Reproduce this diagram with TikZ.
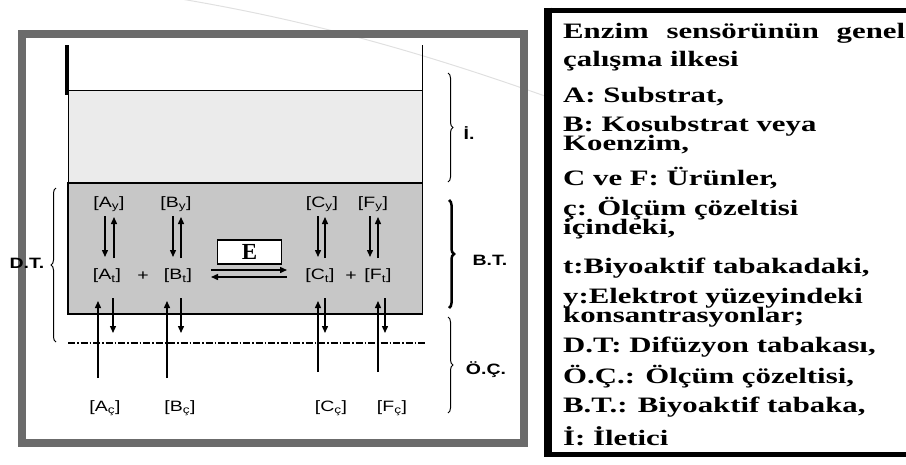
\documentclass[tikz,border=0pt]{standalone}
\usepackage{fontspec}
\setmainfont{Liberation Serif}
\newfontfamily\legfont[FakeStretch=1.4]{Liberation Serif}
\newfontfamily\labfont[FakeStretch=1.3]{Liberation Sans}
\usetikzlibrary{arrows.meta,decorations.pathreplacing}
\begin{document}
\begin{tikzpicture}[x=1pt,y=-1pt,
  lab/.style={font=\labfont\fontsize{15}{15}\selectfont, inner sep=0pt},
  blab/.style={font=\labfont\bfseries\fontsize{15}{15}\selectfont, inner sep=0pt},
  leg/.style={font=\legfont\bfseries\fontsize{22}{22}\selectfont, anchor=base west, inner sep=0pt},
  arr/.style={line width=1.4pt, -{Triangle[length=7pt,width=6pt]}},
  brc/.style={decorate, decoration={brace, amplitude=5pt}, line width=1pt},
  frame/.style={draw=black!58, line width=8pt},
  ]
\useasboundingbox (0,0) rectangle (906,464);
\clip (0,0) rectangle (906,464);
% faint background arc
\draw[black!12, line width=1pt] (175,-2) .. controls (320,22) and (440,58) .. (570,105);
% grey frame
\draw[frame] (22,33.5) rectangle (523.5,442.5);
% light grey layer (İ.)
\draw[fill=black!8, line width=1pt] (68,90) rectangle (422.5,183);
% bioactive layer (B.T.)
\draw[fill=black!22, line width=1.3pt] (68,183) rectangle (422.5,314);
\draw[line width=2.5pt] (68,183) -- (422.5,183);
% walls
\draw[line width=4pt] (67,45) -- (67,95);
\draw[line width=1pt] (422.5,45) -- (422.5,90);
% dotted solution boundary
\draw[line width=2pt, dash pattern=on 7pt off 2pt on 1.5pt off 2pt] (68,343) -- (425,343);

% labels in layer
\node[lab] (Ay) at (109,204) {[A\textsubscript{y}]};
\node[lab] (By) at (176,204) {[B\textsubscript{y}]};
\node[lab] (Cy) at (322,204) {[C\textsubscript{y}]};
\node[lab] (Fy) at (373,204) {[F\textsubscript{y}]};
\node[lab] (At) at (107,276) {[A\textsubscript{t}]};
\node[lab] (pAB) at (143,276) {+};
\node[lab] (Bt) at (178,276) {[B\textsubscript{t}]};
\node[lab] (Ct) at (320,276) {[C\textsubscript{t}]};
\node[lab] (pCF) at (351,276) {+};
\node[lab] (Ft) at (378,276) {[F\textsubscript{t}]};
\node[lab] (Ac) at (105,408) {[A\textsubscript{ç}]};
\node[lab] (Bc) at (180,408) {[B\textsubscript{ç}]};
\node[lab] (Cc) at (331,408) {[C\textsubscript{ç}]};
\node[lab] (Fc) at (392,408) {[F\textsubscript{ç}]};

% vertical arrows y <-> t
\foreach \n/\xd/\xu in {A/105/114, B/173/181, C/318/325, F/370/378} {
  \coordinate (\n yd1) at (\xd,216); \coordinate (\n yd2) at (\xd,257);
  \coordinate (\n yu1) at (\xu,258); \coordinate (\n yu2) at (\xu,217);
  \draw[arr] (\n yd1) -- (\n yd2);
  \draw[arr] (\n yu1) -- (\n yu2);
}
% vertical arrows t <-> ç
\foreach \n/\xu/\xd/\yb in {A/98/113/378, B/167/181/378, C/318/325/372, F/378/385/372} {
  \coordinate (\n cu1) at (\xu,\yb); \coordinate (\n cu2) at (\xu,301);
  \coordinate (\n cd1) at (\xd,298); \coordinate (\n cd2) at (\xd,333);
  \draw[arr] (\n cu1) -- (\n cu2);
  \draw[arr] (\n cd1) -- (\n cd2);
}
% enzyme and reaction arrows
\node[draw, fill=white, line width=1.5pt, minimum width=64pt, minimum height=24pt, inner sep=0pt,
      font=\bfseries\fontsize{23}{23}\selectfont] (E) at (249.5,252) {E};
\coordinate (rf1) at (211,270); \coordinate (rf2) at (287,270);
\coordinate (rb1) at (287,277); \coordinate (rb2) at (211,277);
\draw[arr] (rf1) -- (rf2);
\draw[arr] (rb1) -- (rb2);

% braces
\coordinate (iT) at (448,73);  \coordinate (iB) at (448,182);
\coordinate (bT) at (449,200); \coordinate (bB) at (449,308);
\coordinate (oT) at (448,317); \coordinate (oB) at (448,413);
\coordinate (dT) at (56,188);  \coordinate (dB) at (56,342);
\draw[brc] (iT) -- (iB);
\draw[brc, line width=2.5pt] (bT) -- (bB);
\draw[brc] (oT) -- (oB);
\draw[brc] (dB) -- (dT);
\node[blab] (Il) at (469,133) {İ.};
\node[blab] (BTl) at (490,260) {B.T.};
\node[blab] (OCl) at (486,370) {Ö.Ç.};
\node[blab] (DTl) at (27,263) {D.T.};

% legend
\draw[fill=white, line width=5.5pt] (547.5,10.3) rectangle (915,454.5);
\draw[line width=8pt] (547.5,7.5) -- (547.5,457.2);
\node[leg] (L1) at (563,38) {\makebox[342pt][s]{Enzim sensörünün genel}};
\node[leg] (L2) at (563,66) {çalışma ilkesi};
\node[leg] (L3) at (563,102) {A: Substrat,};
\node[leg] (L4) at (563,131) {B: Kosubstrat veya};
\node[leg] (L5) at (563,150) {Koenzim,};
\node[leg] (L6) at (563,185) {C ve F: Ürünler,};
\node[leg] (L7) at (563,215) {ç: Ölçüm çözeltisi};
\node[leg] (L8) at (563,234) {içindeki,};
\node[leg] (L9) at (563,273) {t:Biyoaktif tabakadaki,};
\node[leg] (L10) at (563,303) {y:Elektrot yüzeyindeki};
\node[leg] (L11) at (563,322) {konsantrasyonlar;};
\node[leg] (L12) at (563,352) {D.T: Difüzyon tabakası,};
\node[leg] (L13) at (563,383) {Ö.Ç.: Ölçüm çözeltisi,};
\node[leg] (L14) at (563,412) {B.T.: Biyoaktif tabaka,};
\node[leg] (L15) at (563,445) {İ: İletici};
\end{tikzpicture}
\end{document}
